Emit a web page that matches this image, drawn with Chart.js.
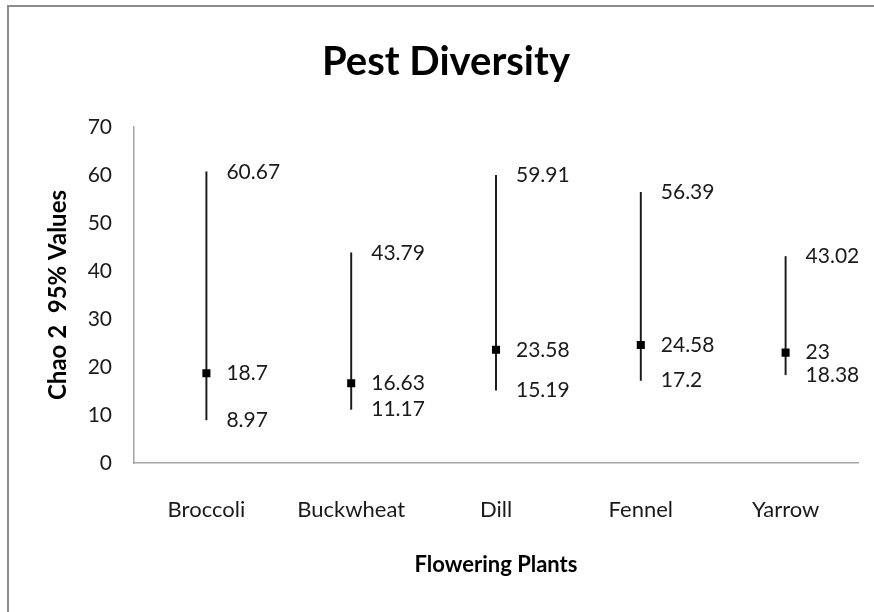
<!DOCTYPE html>
<html>
<head>
<meta charset="utf-8">
<title>Pest Diversity</title>
<script src="https://cdn.jsdelivr.net/npm/chart.js@4/dist/chart.umd.min.js"></script>
<style>
    html, body { margin: 0; padding: 0; background: #fff; overflow: hidden; }
    #frame {
        position: absolute;
        left: 7px;
        top: 5px;
        border-left: 2px solid #8c8c8c;
        border-top: 2px solid #8c8c8c;
    }
    #frame canvas { display: block; }
</style>
</head>
<body>
<div id="frame">
    <canvas id="chao2" width="874" height="605"></canvas>
</div>
<script>
// Chao 2 estimates with 95% interval per flowering plant
var plants = ['Broccoli', 'Buckwheat', 'Dill', 'Fennel', 'Yarrow'];
var lower = [8.97, 11.17, 15.19, 17.2, 18.38];
var estimate = [18.7, 16.63, 23.58, 24.58, 23];
var upper = [60.67, 43.79, 59.91, 56.39, 43.02];

var yTicks = [0, 10, 20, 30, 40, 50, 60, 70];

var ranges = plants.map(function(p, i){
    return [lower[i], upper[i]];
});

var labelFont = '21px Lato';

// writes the low / estimate / high numbers to the right of each whisker
var valueLabels = {
    id: 'valueLabels',
    afterDatasetsDraw: function(chart){
        var ctx = chart.ctx;
        var x = chart.scales.x;
        var y = chart.scales.y;
        ctx.save();
        ctx.font = labelFont;
        ctx.fillStyle = '#1a1a1a';
        ctx.textAlign = 'left';
        ctx.textBaseline = 'middle';
        plants.forEach(function(p, i){
            var px = x.getPixelForValue(i) + 20;
            [upper[i], estimate[i], lower[i]].forEach(function(v){
                ctx.fillText(String(v), px, y.getPixelForValue(v));
            });
        });
        ctx.restore();
    }
};

var ctx = document.getElementById('chao2');
var myChart = new Chart(ctx, {
    type: 'bar',
    data: {
        labels: plants,
        datasets: [{
            label: '95% interval',
            data: ranges,
            backgroundColor: '#1a1a1a',
            barThickness: 1.3,
            order: 2
        }, {
            type: 'line',
            label: 'Chao 2',
            data: estimate,
            showLine: false,
            pointStyle: 'rect',
            pointRadius: 5.7,
            pointBackgroundColor: '#000',
            pointBorderWidth: 0,
            order: 1
        }]
    },
    plugins: [valueLabels],
    options: {
        responsive: false,
        animation: false,
        events: [],
        // equal side padding keeps the title centred on the whole frame
        layout: {
            padding: { left: 25, right: 25, top: 0, bottom: 0 }
        },
        plugins: {
            legend: { display: false },
            tooltip: { enabled: false },
            title: {
                display: true,
                text: 'Pest Diversity',
                color: '#000',
                font: { family: 'Lato', size: 40, weight: 'bold', lineHeight: 1.2 },
                padding: { top: 31, bottom: 41 }
            }
        },
        scales: {
            x: {
                grid: { display: false, drawTicks: false },
                border: { display: true, color: '#a6a6a6', width: 1.5 },
                ticks: {
                    color: '#1a1a1a',
                    font: { family: 'Lato', size: 22 },
                    padding: 34,
                    maxRotation: 0
                },
                title: {
                    display: true,
                    text: 'Flowering Plants',
                    color: '#000',
                    font: { family: 'Lato', size: 22, weight: 'bold', lineHeight: 1.2 },
                    padding: { top: 0, bottom: 33.8 }
                },
                afterFit: function(scale){ scale.height = 149; }
            },
            y: {
                min: 0,
                max: 70,
                grid: { display: false, drawTicks: false },
                border: { display: true, color: '#a6a6a6', width: 1.5 },
                afterBuildTicks: function(scale){
                    scale.ticks = yTicks.map(function(v){ return { value: v }; });
                },
                ticks: {
                    color: '#1a1a1a',
                    font: { family: 'Lato', size: 21 },
                    padding: 22
                },
                title: {
                    display: true,
                    text: 'Chao 2  95% Values',
                    color: '#000',
                    font: { family: 'Lato', size: 24, weight: 'bold', lineHeight: 1.2 },
                    padding: { top: 9.6, bottom: 0 }
                },
                afterFit: function(scale){ scale.width = 100; }
            }
        }
    }
});
</script>
</body>
</html>
